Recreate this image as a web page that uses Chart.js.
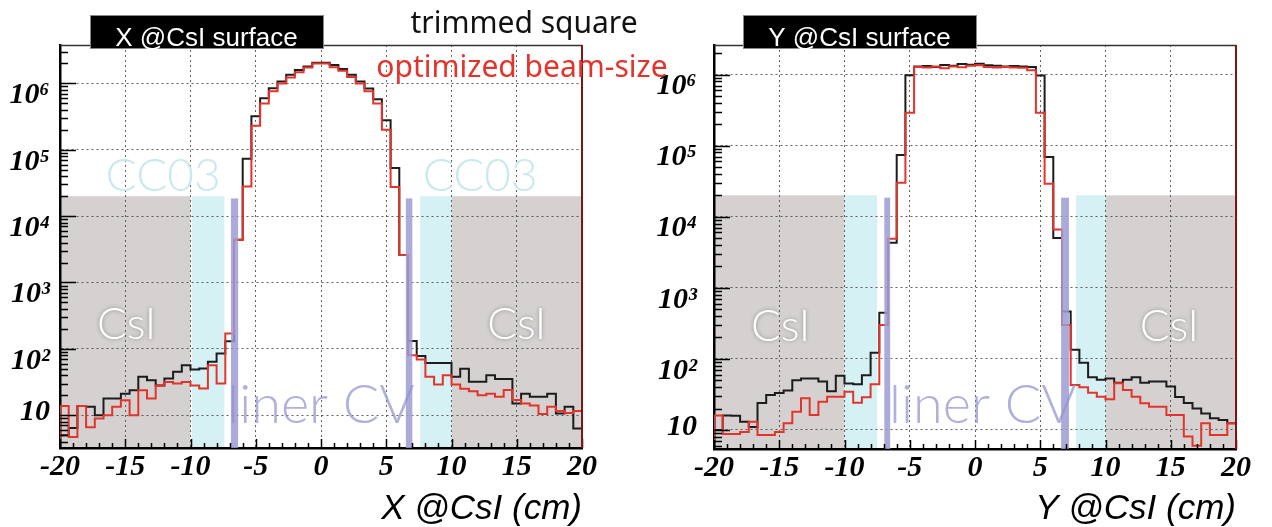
<!DOCTYPE html>
<html>
<head>
<meta charset="utf-8">
<script src="https://cdn.jsdelivr.net/npm/chart.js@4.4.1/dist/chart.umd.min.js"></script>
<style>
  body { margin: 0; background: #fff; }
  #wrap { position: relative; width: 1272px; height: 527px; overflow: hidden; }
  canvas { position: absolute; top: 0; }
  #cx { left: 0; }
  #cy { left: 636px; }
</style>
</head>
<body>
<div id="wrap">
  <canvas id="cx" width="700" height="527"></canvas>
  <canvas id="cy" width="636" height="527"></canvas>
</div>
<script>
// histogram binning (cm)
const xMin = -20, xMax = 20, nBins = 60;
const xStep = 5;
const yTicks = [10, 100, 1e3, 1e4, 1e5, 1e6];

// X @CsI surface, counts per bin
const xSquare = [5, 6.4, 13.7, 13.4, 10, 17.8, 17.8, 21, 23.8, 37.8, 33.7, 28, 35.7, 45, 56.7, 49, 50.6, 63.7, 85, 130,
  4400, 73000, 320000, 600000, 850000, 1070000, 1350000, 1600000, 1800000, 2050000,
  2050000, 1900000, 1650000, 1350000, 1070000, 840000, 580000, 280000, 53000, 2600,
  131, 78, 61, 61, 61, 38, 50, 32, 32, 40, 35, 35, 15, 21, 19, 19, 21, 10.6, 13.4, 6.3];
const xBeam = [13.7, 4.7, 13.7, 6.6, 8.9, 10, 13.4, 16.8, 10, 23.8, 17.8, 28, 31.7, 30, 31.7, 28, 25.3, 56.7, 30, 170,
  4400, 28000, 230000, 500000, 760000, 1000000, 1230000, 1480000, 1740000, 2000000,
  2000000, 1750000, 1550000, 1250000, 1000000, 760000, 500000, 200000, 27500, 2600,
  80, 69, 38, 29, 40, 29, 25, 23, 20, 21, 19, 24, 17, 15, 14, 10.4, 13.4, 11.6, 10.8, 11.6];

// Y @CsI surface, counts per bin
const ySquare = [10, 16, 15.8, 13, 11, 24, 31, 33, 36, 50, 53, 53, 48, 35, 58, 45, 44, 59, 122, 447,
  4300, 74000, 980000, 1300000, 1320000, 1280000, 1360000, 1330000, 1400000, 1370000,
  1420000, 1350000, 1330000, 1300000, 1320000, 1300000, 1280000, 970000, 69000, 5000,
  465, 134, 88, 55, 51, 53, 46, 51, 55, 46, 48, 48, 41, 29, 24, 20, 17, 14.6, 13.8, 12.4];
const yBeam = [16, 8.8, 8.8, 9.4, 13, 8.5, 8.5, 9.4, 12.4, 18.1, 28, 16.3, 25, 29.4, 29.4, 34.6, 24.2, 28.8, 44, 300,
  4900, 30000, 290000, 1280000, 1250000, 1300000, 1220000, 1300000, 1260000, 1330000,
  1350000, 1280000, 1250000, 1270000, 1250000, 1240000, 1150000, 290000, 29000, 6600,
  300, 43, 40, 33.5, 29.4, 27, 45.5, 36.6, 29.4, 23.7, 21.3, 21.3, 16.3, 16.3, 8.1, 6, 12.4, 8.5, 8.5, 12.4];

// detector regions (cm) and their drawn height (counts)
const csiBands = [[-20, -10], [10, 20]];
const cc03BandsX = [[-9.9, -7.4], [7.6, 10]];
const cc03BandsY = [[-10, -7.5], [7.75, 10]];
const linerCvX = [[-6.9, -6.35], [6.5, 7.0]];
const linerCvY = [[-6.95, -6.5], [6.6, 7.2]];
const bandTop = 2e4;
const linerTop = 1.85e4;

const sup = ['\u2070', '\u00b9', '\u00b2', '\u00b3', '\u2074', '\u2075', '\u2076'];
const binW = (xMax - xMin) / nBins;

// left bin edges, plus the closing edge; drawn with stepped:'before'
function histPoints(vals, floor) {
  const pts = [{x: xMin, y: floor}];
  vals.forEach((v, k) => pts.push({x: xMin + k * binW, y: v}));
  pts.push({x: xMax, y: vals[vals.length - 1]}, {x: xMax, y: floor});
  return pts;
}

const lightFont = '300 {s}px Lato, "Open Sans", sans-serif';

function panelPlugin(p) {
  const band = (chart, x0, x1, top) => {
    const {ctx, chartArea: a, scales: {x, y}} = chart;
    const px0 = x.getPixelForValue(x0), px1 = x.getPixelForValue(x1);
    const py = y.getPixelForValue(top);
    ctx.fillRect(px0, py, px1 - px0, a.bottom - py);
  };
  const label = (chart, t) => {
    const {ctx, scales: {x, y}} = chart;
    ctx.fillText(t.text, x.getPixelForValue(t.x), y.getPixelForValue(t.y));
  };
  return {
    id: 'panel',
    beforeDraw(chart) {
      const ctx = chart.ctx;
      ctx.save();
      ctx.fillStyle = '#d5d1d1';
      csiBands.forEach(b => band(chart, b[0], b[1], bandTop));
      ctx.fillStyle = '#d6f1f4';
      p.cc03.forEach(b => band(chart, b[0], b[1], bandTop));
      ctx.restore();
    },
    beforeDatasetsDraw(chart) {
      const ctx = chart.ctx;
      ctx.save();
      ctx.textAlign = 'center';
      ctx.textBaseline = 'middle';
      p.texts.filter(t => t.kind === 'cc03').forEach(t => {
        ctx.font = lightFont.replace('{s}', 46);
        ctx.fillStyle = '#c9e9ed';
        label(chart, t);
      });
      p.texts.filter(t => t.kind === 'csi').forEach(t => {
        ctx.font = lightFont.replace('{s}', 44);
        ctx.fillStyle = '#ffffff';
        ctx.shadowColor = 'rgba(0,0,0,0.35)';
        ctx.shadowBlur = 4;
        label(chart, t);
      });
      ctx.restore();
    },
    afterDatasetsDraw(chart) {
      const {ctx, chartArea: a, scales: {x, y}} = chart;
      ctx.save();
      ctx.globalAlpha = 0.85;
      ctx.fillStyle = '#9c9cd5';
      p.liner.forEach(b => band(chart, b[0], b[1], linerTop));
      ctx.globalAlpha = 1;
      ctx.textAlign = 'center';
      ctx.textBaseline = 'middle';
      ctx.font = lightFont.replace('{s}', 54);
      ctx.fillStyle = 'rgba(150,150,210,0.75)';
      p.texts.filter(t => t.kind === 'liner').forEach(t => label(chart, t));

      // ROOT style ticks pointing into the frame
      ctx.strokeStyle = '#000';
      ctx.lineWidth = 1.5;
      ctx.beginPath();
      for (let e = 0; e <= 6; e++) {
        for (let m = 1; m <= 9; m++) {
          const v = m * Math.pow(10, e);
          if (v < y.min || v > y.max) continue;
          const py = Math.round(y.getPixelForValue(v)) + 0.5;
          ctx.moveTo(a.left, py);
          ctx.lineTo(a.left + (m === 1 ? 16 : 8), py);
        }
      }
      for (let v = xMin; v <= xMax; v++) {
        const px = Math.round(x.getPixelForValue(v)) + 0.5;
        ctx.moveTo(px, a.bottom);
        ctx.lineTo(px, a.bottom - (v % xStep === 0 ? 9 : 5));
      }
      ctx.stroke();

      // top and right of the frame
      ctx.lineWidth = 1.5;
      ctx.strokeStyle = '#333';
      ctx.beginPath();
      ctx.moveTo(a.left, a.top + 0.5);
      ctx.lineTo(a.right, a.top + 0.5);
      ctx.stroke();
      ctx.lineWidth = 2;
      ctx.strokeStyle = '#7d1515';
      ctx.beginPath();
      ctx.moveTo(a.right, a.top);
      ctx.lineTo(a.right, a.bottom);
      ctx.stroke();
      ctx.restore();
    },
    afterDraw(chart) {
      const ctx = chart.ctx;
      const [bx, by, bw, bh] = p.box;
      ctx.save();
      ctx.fillStyle = '#000';
      ctx.fillRect(bx, by, bw, bh);
      ctx.strokeStyle = '#888';
      ctx.lineWidth = 1;
      ctx.strokeRect(bx + 0.5, by + 0.5, bw, bh);
      ctx.fillStyle = '#fff';
      ctx.font = '26px "Liberation Sans", Arial, sans-serif';
      ctx.textAlign = 'center';
      ctx.textBaseline = 'alphabetic';
      ctx.fillText(p.title, bx + bw / 2, by + 31);
      if (p.legend) {
        ctx.font = '30px "Noto Sans", sans-serif';
        ctx.fillStyle = '#111';
        ctx.fillText('trimmed square', 524, 33);
        ctx.font = '30px "Noto Sans", sans-serif';
        ctx.fillStyle = '#e3342b';
        ctx.fillText('optimized beam-size', 522, 77);
      }
      ctx.restore();
    }
  };
}

function makePanel(p) {
  const tickFont = {family: '"Liberation Serif", "DejaVu Serif", serif', size: 30, style: 'italic', weight: 'bold', lineHeight: 1};
  return new Chart(document.getElementById(p.canvas), {
    type: 'line',
    data: {
      datasets: [
        {label: 'optimized beam-size', data: histPoints(p.beam, p.yMin), stepped: 'before',
         borderColor: '#e3342b', borderWidth: 2, pointRadius: 0, fill: false, order: 0},
        {label: 'trimmed square', data: histPoints(p.square, p.yMin), stepped: 'before',
         borderColor: '#1c1c1c', borderWidth: 2, pointRadius: 0, fill: false, order: 1}
      ]
    },
    options: {
      responsive: false,
      animation: false,
      events: [],
      layout: {padding: {left: 0, right: p.padRight, top: 45, bottom: 0}},
      plugins: {legend: {display: false}, tooltip: {enabled: false}},
      scales: {
        x: {
          type: 'linear', min: xMin, max: xMax,
          afterFit: s => { s.height = p.xAxisH; },
          ticks: {stepSize: xStep, autoSkip: false, maxRotation: 0, padding: 4, color: '#000', font: tickFont},
          grid: {color: 'rgba(60,60,60,0.8)', lineWidth: 1, drawTicks: false},
          border: {display: true, color: '#000', width: 2.5, dash: [2, 3]},
          title: {display: true, text: p.axisTitle, align: 'end', color: '#000', padding: {top: 0, bottom: 0},
                  font: {family: '"Liberation Sans", Arial, sans-serif', size: 35, style: 'italic', lineHeight: 1}}
        },
        y: {
          type: 'logarithmic', min: p.yMin, max: p.yMax,
          afterFit: s => { s.width = p.yAxisW; },
          afterBuildTicks: s => { s.ticks = yTicks.filter(v => v >= s.min && v <= s.max).map(v => ({value: v})); },
          ticks: {
            padding: p.labelPad, labelOffset: 12, color: '#000', font: tickFont,
            callback: v => v === 10 ? ['10', ''] : '10' + sup[Math.round(Math.log10(v))]
          },
          grid: {color: 'rgba(60,60,60,0.8)', lineWidth: 1, drawTicks: false},
          border: {display: true, color: '#000', width: 2.5, dash: [2, 3]}
        }
      }
    },
    plugins: [panelPlugin(p)]
  });
}

makePanel({
  canvas: 'cx', square: xSquare, beam: xBeam, yMin: 3.2, yMax: 3.8e6,
  yAxisW: 60, xAxisH: 79, padRight: 118, labelPad: 10,
  title: 'X @CsI surface', axisTitle: 'X @CsI (cm)', box: [90, 15, 233, 33], legend: true,
  cc03: cc03BandsX, liner: linerCvX,
  texts: [
    {kind: 'cc03', text: 'CC03', x: -12.1, y: 4e4},
    {kind: 'cc03', text: 'CC03', x: 12.2, y: 4e4},
    {kind: 'csi', text: 'CsI', x: -14.9, y: 230},
    {kind: 'csi', text: 'CsI', x: 15.0, y: 230},
    {kind: 'liner', text: 'liner CV', x: 0, y: 14}
  ]
});

makePanel({
  canvas: 'cy', square: ySquare, beam: yBeam, yMin: 5.4, yMax: 2.6e6,
  yAxisW: 78, xAxisH: 78, padRight: 36, labelPad: 17,
  title: 'Y @CsI surface', axisTitle: 'Y @CsI (cm)', box: [107, 15, 233, 33], legend: false,
  cc03: cc03BandsY, liner: linerCvY,
  texts: [
    {kind: 'csi', text: 'CsI', x: -14.9, y: 280},
    {kind: 'csi', text: 'CsI', x: 14.9, y: 280},
    {kind: 'liner', text: 'liner CV', x: 0.6, y: 22}
  ]
});
</script>
</body>
</html>
